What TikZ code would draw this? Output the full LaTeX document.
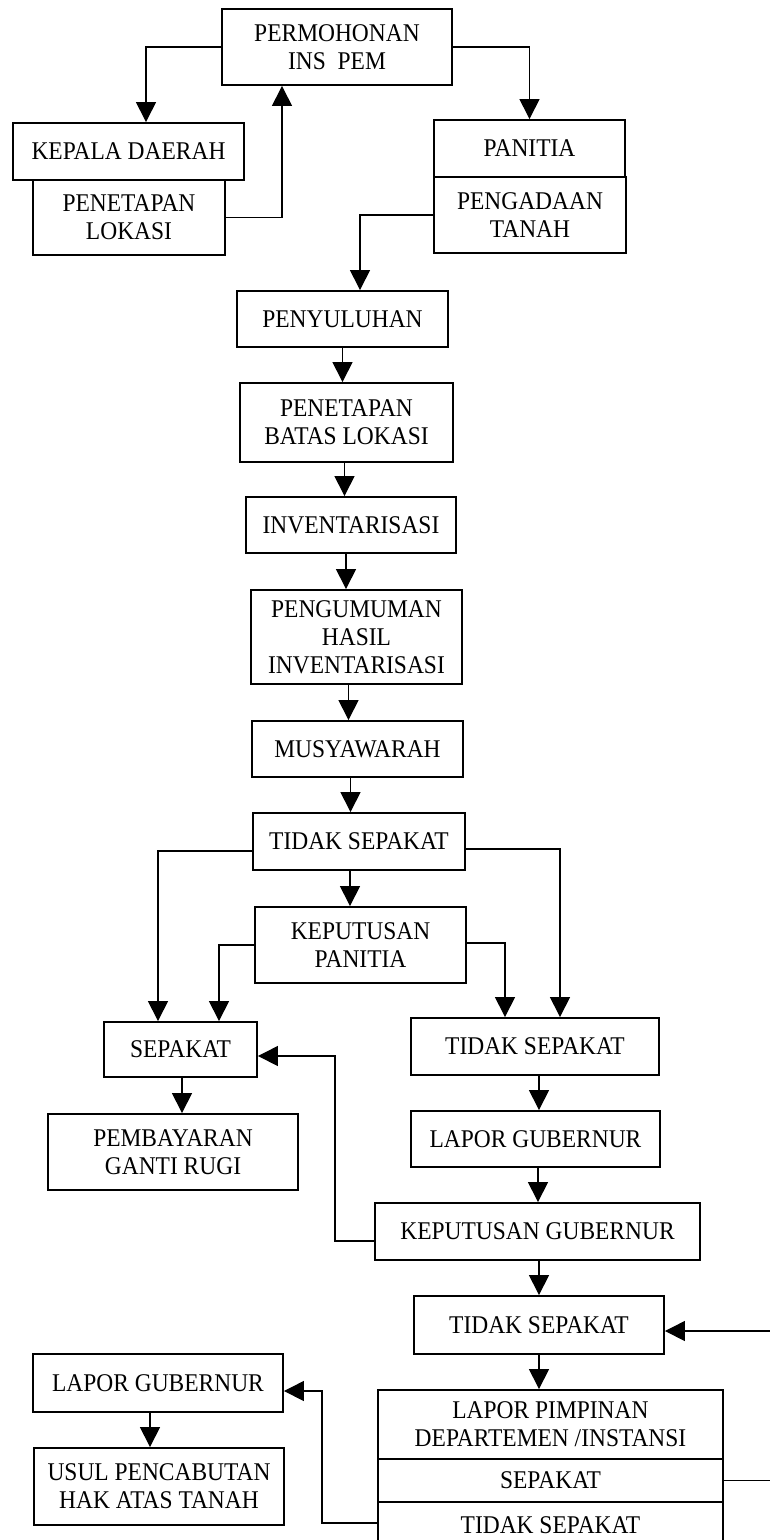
\documentclass[tikz,border=0pt]{standalone}
\usepackage{fontspec}
\setmainfont{Liberation Serif}[FakeStretch=0.92]
\usetikzlibrary{arrows.meta}
\newcommand\diafont{\fontsize{25.5}{28}\selectfont}
\newcommand\bx[6]{\node[box,minimum width=#4pt,minimum height=#5pt] (#1) at (#2,#3) {#6};}
\begin{document}
\begin{tikzpicture}[x=1pt,y=-1pt,
  box/.style={draw,line width=1.9pt,inner sep=0pt,align=center,font=\diafont},
  arr/.style={line width=1.4pt,-{Triangle[length=20pt,width=20pt]}},
  ln/.style={line width=1.4pt}]
\fill[white] (0,0) rectangle (769,1540);
\useasboundingbox (0,0) rectangle (769,1540);
% boxes
\bx{perm}{337}{47}{230}{76}{PERMOHONAN\\INS~~PEM}
\bx{kepala}{128.5}{151.5}{231}{57}{KEPALA DAERAH}
\bx{penlok}{129}{217.5}{192}{75}{PENETAPAN\\LOKASI}
\bx{panitia}{529.5}{148.5}{191}{57}{PANITIA}
\bx{pengadaan}{530}{215}{192}{76}{PENGADAAN\\TANAH}
\bx{penyuluhan}{342.5}{319}{211}{56}{PENYULUHAN}
\bx{batas}{346.5}{422.5}{213}{79}{PENETAPAN\\BATAS LOKASI}
\bx{inv}{351}{525}{210}{56}{INVENTARISASI}
\bx{pengumuman}{356.5}{637}{211}{94}{PENGUMUMAN\\HASIL\\INVENTARISASI}
\bx{musy}{357.5}{749}{211}{56}{MUSYAWARAH}
\bx{tsa}{359}{841.5}{212}{57}{TIDAK SEPAKAT}
\bx{kpan}{360.5}{945}{211}{76}{KEPUTUSAN\\PANITIA}
\bx{sepakat}{180.5}{1049.5}{153}{55}{SEPAKAT}
\bx{tsb}{535}{1046.5}{248}{57}{TIDAK SEPAKAT}
\bx{pemb}{173}{1152}{250}{76}{PEMBAYARAN\\GANTI RUGI}
\bx{lapora}{535.5}{1139}{249}{56}{LAPOR GUBERNUR}
\bx{kg}{537.5}{1231.5}{325}{57}{KEPUTUSAN GUBERNUR}
\bx{tsc}{539}{1325}{250}{58}{TIDAK SEPAKAT}
\bx{lpd}{550.5}{1424.5}{345}{69}{LAPOR PIMPINAN\\DEPARTEMEN /INSTANSI}
\bx{lsep}{550.5}{1480.5}{345}{43}{SEPAKAT}
\bx{lts}{550.5}{1525}{345}{46}{TIDAK SEPAKAT}
\bx{laporb}{158}{1383}{250}{58}{LAPOR GUBERNUR}
\bx{usul}{159}{1486.5}{250}{77}{USUL PENCABUTAN\\HAK ATAS TANAH}
% connectors
\draw[arr] (perm.west) -| ([xshift=17.5pt]kepala.north);
\draw[arr] (penlok.east) -| ([xshift=-55pt]perm.south);
\draw[arr] (perm.east) -| (panitia.north);
\draw[arr] (pengadaan.west) -| ([xshift=17.5pt]penyuluhan.north);
\draw[arr] (penyuluhan.south) -- (penyuluhan.south |- batas.north);
\draw[arr] ([xshift=-2pt]batas.south) -- ([xshift=-2pt]batas.south |- inv.north);
\draw[arr] ([xshift=-5pt]inv.south) -- ([xshift=-5pt]inv.south |- pengumuman.north);
\draw[arr] ([xshift=-8pt]pengumuman.south) -- ([xshift=-8pt]pengumuman.south |- musy.north);
\draw[arr] ([xshift=-7pt]musy.south) -- ([xshift=-7pt]musy.south |- tsa.north);
\draw[arr] ([yshift=-9.5pt]tsa.west) -| ([xshift=-22.5pt]sepakat.north);
\draw[arr] ([yshift=-7.5pt]tsa.east) -| ([xshift=25pt]tsb.north);
\draw[arr] ([xshift=-9pt]tsa.south) -- ([xshift=-9pt]tsa.south |- kpan.north);
\draw[arr] (kpan.west) -| ([xshift=38.5pt]sepakat.north);
\draw[arr] ([yshift=2pt]kpan.east) -| ([xshift=-30pt]tsb.north);
\draw[arr] ([xshift=1.5pt]sepakat.south) -- ([xshift=1.5pt]sepakat.south |- pemb.north);
\draw[arr] ([xshift=4pt]tsb.south) -- ([xshift=4pt]tsb.south |- lapora.north);
\draw[arr] ([xshift=2.5pt]lapora.south) -- ([xshift=2.5pt]lapora.south |- kg.north);
\draw[arr] ([yshift=-9.5pt]kg.west) -- ++(-39,0) |- ([yshift=-6.5pt]sepakat.east);
\draw[arr] ([xshift=1.5pt]kg.south) -- ([xshift=1.5pt]kg.south |- tsc.north);
\draw[arr] (lsep.east) -- ++(48,0) |- ([yshift=-6pt]tsc.east);
\draw[arr] (tsc.south) -- (tsc.south |- lpd.north);
\draw[arr] ([yshift=2pt]lts.west) -- ++(-55,0) |- ([yshift=-8pt]laporb.east);
\draw[arr] ([xshift=-8pt]laporb.south) -- ([xshift=-8pt]laporb.south |- usul.north);
\end{tikzpicture}
\end{document}
